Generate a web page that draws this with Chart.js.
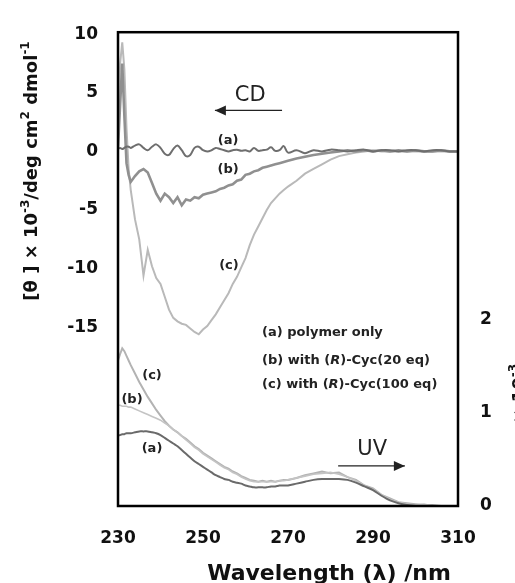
<!DOCTYPE html>
<html>
<head>
<meta charset="utf-8">
<script src="https://cdn.jsdelivr.net/npm/chart.js@4/dist/chart.umd.min.js"></script>
<style>
  body { margin: 0; background: #fff; }
  #wrap { width: 515px; height: 583px; position: relative; }
</style>
</head>
<body>
<div id="wrap"><canvas id="cdChart"></canvas></div>
<script>
// wavelength (nm), finer steps at the start where the curves jump
const wavelengths = [230, 230.5, 231, 231.5, 232, 232.5, 233,
  234, 235, 236, 237, 238, 239, 240, 241, 242, 243, 244, 245, 246, 247, 248, 249, 250,
  251, 252, 253, 254, 255, 256, 257, 258, 259, 260, 261, 262, 263, 264, 265, 266, 267, 268, 269, 270,
  272, 274, 276, 278, 280, 282, 284, 286, 288, 290, 292, 294, 296, 298, 300, 302, 304, 306, 308, 310];

// CD, [theta] x 10^-3
const cdA = [0.2, 0.3, 0.2, 0.3, 0.4, 0.4, 0.3,
  0.5, 0.6, 0.3, 0.1, 0.4, 0.6, 0.3, -0.2, -0.3, 0.2, 0.5, 0.1, -0.4, -0.3, 0.3, 0.4, 0.1,
  0.0, 0.1, 0.3, 0.2, 0.1, 0.0, 0.1, 0.15, 0.05, 0.1, 0.0, 0.3, 0.05, 0.1, 0.15, 0.35, 0.05, 0.1, 0.45, -0.1,
  0.1, -0.15, 0.1, 0.0, 0.15, 0.1, 0.0, 0.1, 0.15, 0.0, 0.1, 0.1, 0.0, 0.1, 0.1, 0.0, 0.1, 0.1, 0.0, 0.0];
const cdB = [0.3, 4.0, 7.5, 3.0, -1.0, -2.0, -2.6,
  -2.1, -1.7, -1.5, -1.8, -2.7, -3.6, -4.2, -3.6, -3.9, -4.4, -3.9, -4.6, -4.1, -4.2, -3.9, -4.0, -3.7,
  -3.6, -3.5, -3.4, -3.2, -3.1, -2.9, -2.8, -2.5, -2.4, -2.0, -1.9, -1.7, -1.6, -1.4, -1.3, -1.2, -1.1, -1.0, -0.9, -0.8,
  -0.6, -0.45, -0.3, -0.2, -0.1, 0.0, 0.1, 0.0, 0.1, 0.0, 0.1, 0.0, 0.1, 0.0, 0.1, 0.0, 0.0, 0.1, 0.0, 0.0];
const cdC = [1.0, 7.5, 9.3, 7.0, 2.0, -1.5, -3.3,
  -5.8, -7.5, -10.6, -8.4, -9.8, -10.8, -11.3, -12.4, -13.5, -14.2, -14.5, -14.7, -14.8, -15.1, -15.4, -15.6, -15.2,
  -14.9, -14.4, -13.9, -13.3, -12.7, -12.1, -11.3, -10.7, -9.9, -9.1, -8.0, -7.1, -6.4, -5.7, -5.0, -4.4, -4.0, -3.6, -3.3, -3.0,
  -2.5, -1.9, -1.5, -1.1, -0.7, -0.4, -0.25, -0.1, 0.0, 0.1, 0.0, 0.0, 0.0, 0.0, 0.0, 0.0, 0.0, 0.0, 0.0, 0.0];

// UV, epsilon x 10^-3
const uvA = [0.76, 0.76, 0.77, 0.77, 0.78, 0.78, 0.78,
  0.79, 0.80, 0.80, 0.80, 0.79, 0.78, 0.76, 0.73, 0.70, 0.67, 0.64, 0.60, 0.56, 0.52, 0.48, 0.45, 0.42,
  0.39, 0.36, 0.33, 0.31, 0.29, 0.28, 0.26, 0.25, 0.24, 0.22, 0.21, 0.20, 0.20, 0.20, 0.20, 0.21, 0.21, 0.22, 0.22, 0.22,
  0.24, 0.26, 0.28, 0.29, 0.29, 0.29, 0.28, 0.25, 0.21, 0.17, 0.11, 0.06, 0.03, 0.01, 0.0, 0.0, 0.0, 0.0, 0.0, 0.0];
const uvB = [1.08, 1.08, 1.07, 1.07, 1.07, 1.06, 1.06,
  1.04, 1.02, 1.00, 0.98, 0.96, 0.94, 0.92, 0.89, 0.86, 0.82, 0.79, 0.75, 0.71, 0.67, 0.63, 0.60, 0.56,
  0.53, 0.50, 0.47, 0.44, 0.41, 0.39, 0.36, 0.34, 0.31, 0.29, 0.27, 0.26, 0.26, 0.26, 0.26, 0.26, 0.26, 0.27, 0.27, 0.28,
  0.30, 0.32, 0.34, 0.35, 0.36, 0.34, 0.31, 0.27, 0.22, 0.18, 0.12, 0.07, 0.04, 0.02, 0.01, 0.02, 0.0, 0.0, 0.0, 0.0];
const uvC = [1.56, 1.63, 1.69, 1.66, 1.61, 1.56, 1.51,
  1.42, 1.33, 1.25, 1.17, 1.10, 1.03, 0.97, 0.91, 0.86, 0.82, 0.79, 0.75, 0.72, 0.68, 0.64, 0.61, 0.57,
  0.54, 0.51, 0.48, 0.45, 0.42, 0.40, 0.37, 0.35, 0.32, 0.30, 0.28, 0.27, 0.26, 0.27, 0.26, 0.27, 0.26, 0.27, 0.28, 0.28,
  0.30, 0.33, 0.35, 0.37, 0.35, 0.36, 0.31, 0.28, 0.22, 0.19, 0.12, 0.08, 0.04, 0.03, 0.02, 0.01, 0.01, 0.0, 0.0, 0.0];

const xTicks = [230, 250, 270, 290, 310];
const cdTicks = [-15, -10, -5, 0, 5, 10];
const uvTicks = [0, 1, 2];

const pts = arr => wavelengths.map((w, i) => ({x: w, y: arr[i]}));

function line(label, arr, axis, color, width, tension) {
  return {
    label: label,
    data: pts(arr),
    yAxisID: axis,
    borderColor: color,
    borderWidth: width,
    pointRadius: 0,
    tension: tension || 0,
    fill: false
  };
}

const tickFont = {family: 'DejaVu Sans', size: 17, weight: 'bold'};

// draw runs of text with superscripts
function drawRuns(ctx, runs, x, y) {
  let cx = x;
  runs.forEach(r => {
    ctx.font = r.font;
    ctx.fillText(r.t, cx, y - (r.up || 0));
    cx += ctx.measureText(r.t).width;
  });
}
function runsWidth(ctx, runs) {
  let w = 0;
  runs.forEach(r => { ctx.font = r.font; w += ctx.measureText(r.t).width; });
  return w;
}

function arrow(ctx, x1, x2, y, headLeft) {
  ctx.save();
  ctx.strokeStyle = '#222';
  ctx.fillStyle = '#222';
  ctx.lineWidth = 1.1;
  ctx.beginPath();
  ctx.moveTo(x1, y);
  ctx.lineTo(x2, y);
  ctx.stroke();
  const tip = headLeft ? x1 : x2;
  const d = headLeft ? 11 : -11;
  ctx.beginPath();
  ctx.moveTo(tip, y);
  ctx.lineTo(tip + d, y - 5);
  ctx.lineTo(tip + d, y + 5);
  ctx.closePath();
  ctx.fill();
  ctx.restore();
}

const annotate = {
  id: 'annotate',
  afterDraw(chart) {
    const ctx = chart.ctx;
    const a = chart.chartArea;
    const x = chart.scales.x, yc = chart.scales.yCD, yu = chart.scales.yUV;
    ctx.save();

    // frame
    ctx.strokeStyle = '#000';
    ctx.lineWidth = 2.5;
    ctx.strokeRect(a.left, a.top, a.right - a.left, a.bottom - a.top);

    ctx.fillStyle = '#222';
    ctx.textBaseline = 'middle';
    ctx.textAlign = 'center';

    // CD / UV markers
    ctx.font = '21px "DejaVu Sans"';
    ctx.fillText('CD', x.getPixelForValue(261.1), yc.getPixelForValue(4.8));
    arrow(ctx, x.getPixelForValue(252.8), x.getPixelForValue(268.6), yc.getPixelForValue(3.5), true);
    ctx.fillText('UV', x.getPixelForValue(289.8), yu.getPixelForValue(0.6));
    arrow(ctx, x.getPixelForValue(281.8), x.getPixelForValue(297.5), yu.getPixelForValue(0.43), false);

    // curve labels
    ctx.font = 'bold 13px "DejaVu Sans"';
    ctx.fillText('(a)', x.getPixelForValue(255.9), yc.getPixelForValue(0.95));
    ctx.fillText('(b)', x.getPixelForValue(255.9), yc.getPixelForValue(-1.55));
    ctx.fillText('(c)', x.getPixelForValue(256.1), yc.getPixelForValue(-9.75));
    ctx.fillText('(c)', x.getPixelForValue(238), yu.getPixelForValue(1.4));
    ctx.fillText('(b)', x.getPixelForValue(233.3), yu.getPixelForValue(1.14));
    ctx.fillText('(a)', x.getPixelForValue(238), yu.getPixelForValue(0.62));

    // key
    ctx.textAlign = 'left';
    const b = 'bold 13px "DejaVu Sans"', bi = 'italic bold 13px "DejaVu Sans"';
    const kx = x.getPixelForValue(263.9);
    drawRuns(ctx, [{t: '(a) polymer only', font: b}], kx, 333);
    drawRuns(ctx, [{t: '(b) with (', font: b}, {t: 'R', font: bi}, {t: ')-Cyc(20 eq)', font: b}], kx, 361);
    drawRuns(ctx, [{t: '(c) with (', font: b}, {t: 'R', font: bi}, {t: ')-Cyc(100 eq)', font: b}], kx, 385);

    // axis titles
    ctx.fillStyle = '#111';
    ctx.textAlign = 'center';
    ctx.textBaseline = 'alphabetic';
    ctx.font = 'bold 22px "DejaVu Sans"';
    ctx.fillText('Wavelength (\u03bb) /nm', 329, 580);

    ctx.textAlign = 'left';
    const big = 'bold 18px "DejaVu Sans"', sup = 'bold 12px "DejaVu Sans"';
    const leftRuns = [
      {t: '[\u03b8 ] \u00d7 10', font: big}, {t: '-3', font: sup, up: 8},
      {t: '/deg cm', font: big}, {t: '2', font: sup, up: 8},
      {t: ' dmol', font: big}, {t: '-1', font: sup, up: 8}
    ];
    ctx.save();
    ctx.translate(37, 171);
    ctx.rotate(-Math.PI / 2);
    drawRuns(ctx, leftRuns, -runsWidth(ctx, leftRuns) / 2, 0);
    ctx.restore();

    const rightRuns = [{t: '\u03b5 \u00d7 10', font: big}, {t: '-3', font: sup, up: 8}];
    ctx.save();
    ctx.translate(525, 402);
    ctx.rotate(-Math.PI / 2);
    drawRuns(ctx, rightRuns, -runsWidth(ctx, rightRuns) / 2, 0);
    ctx.restore();

    ctx.restore();
  }
};

new Chart(document.getElementById('cdChart'), {
  type: 'line',
  data: {
    datasets: [
      line('CD (a)', cdA, 'yCD', '#6e6e6e', 2, 0.35),
      line('CD (b)', cdB, 'yCD', '#909090', 2.6),
      line('CD (c)', cdC, 'yCD', '#b9b9b9', 2),
      line('UV (a)', uvA, 'yUV', '#6a6a6a', 2, 0.3),
      line('UV (b)', uvB, 'yUV', '#c4c4c4', 1.6),
      line('UV (c)', uvC, 'yUV', '#b3b3b3', 2)
    ]
  },
  options: {
    responsive: true,
    maintainAspectRatio: false,
    animation: false,
    layout: {padding: {top: 21, left: 0, right: 0, bottom: 0}},
    plugins: {
      legend: {display: false},
      tooltip: {enabled: false}
    },
    scales: {
      x: {
        type: 'linear',
        min: 230,
        max: 310,
        afterBuildTicks: s => { s.ticks = xTicks.map(v => ({value: v})); },
        afterFit: s => { s.height = 77; },
        grid: {display: false, drawTicks: false},
        border: {display: false},
        ticks: {font: tickFont, color: '#111', padding: 22, maxRotation: 0}
      },
      yCD: {
        type: 'linear',
        position: 'left',
        min: -30.25,
        max: 10.17,
        afterBuildTicks: s => { s.ticks = cdTicks.map(v => ({value: v})); },
        afterFit: s => { s.width = 118; },
        grid: {display: false, drawTicks: false},
        border: {display: false},
        ticks: {font: tickFont, color: '#111', padding: 20}
      },
      yUV: {
        type: 'linear',
        position: 'right',
        min: 0,
        max: 5.08,
        afterBuildTicks: s => { s.ticks = uvTicks.map(v => ({value: v})); },
        afterFit: s => { s.width = 57; },
        grid: {display: false, drawTicks: false},
        border: {display: false},
        ticks: {font: tickFont, color: '#111', padding: 22}
      }
    }
  },
  plugins: [annotate]
});
</script>
</body>
</html>
